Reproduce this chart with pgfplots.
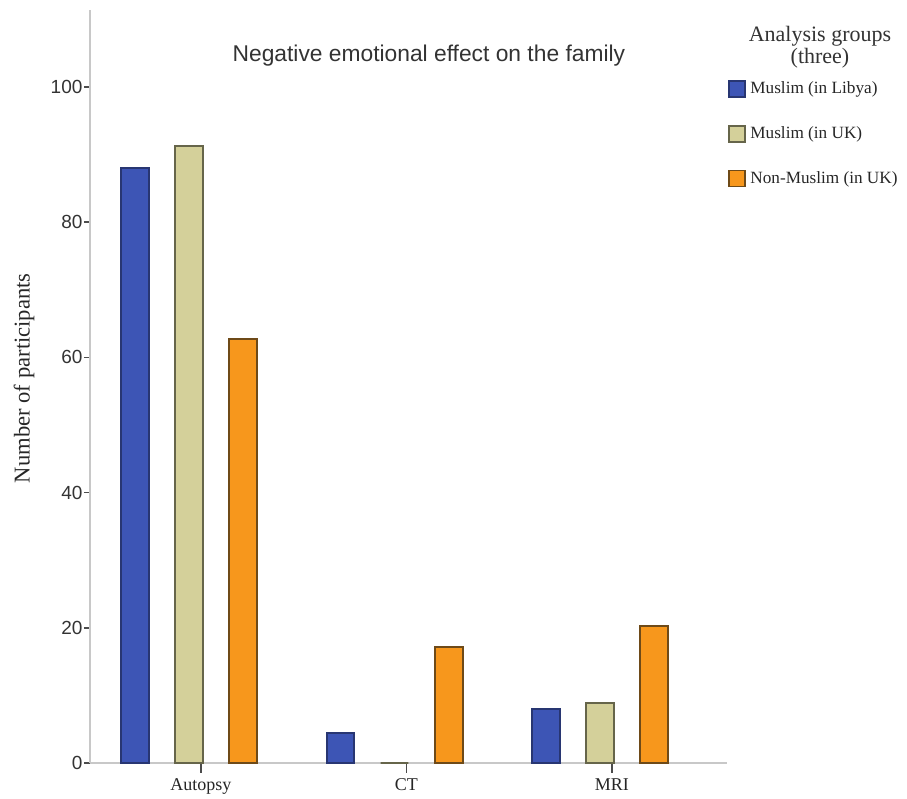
\documentclass[border=0pt]{standalone}
\usepackage{fontspec}
\setmainfont{Liberation Serif}
\setsansfont{Liberation Sans}
\usepackage{pgfplots}
\pgfplotsset{compat=1.18}
\definecolor{cblue}{HTML}{3D55B5}
\definecolor{cblueb}{HTML}{283672}
\definecolor{cbeige}{HTML}{D4D09A}
\definecolor{cbeigeb}{HTML}{66654A}
\definecolor{corange}{HTML}{F7971C}
\definecolor{coranget}{HTML}{6E4A18}
\definecolor{axgray}{HTML}{C8C8C8}
\begin{document}
\begin{tikzpicture}
\useasboundingbox (0,0) rectangle (453.5pt,399.5pt);
\begin{axis}[
  at={(45pt,18pt)}, anchor=south west,
  scale only axis,
  width=318.5pt, height=376.5pt,
  xmin=-0.482, xmax=2.618,
  ymin=0, ymax=111.4,
  axis x line*=bottom, axis y line*=left,
  axis line style={axgray, line width=1.2pt},
  every outer x axis line/.append style={-},
  every outer y axis line/.append style={-},
  tick align=outside,
  xtick={0.058,1.058,2.058},
  xticklabels={Autopsy,CT,MRI},
  xticklabel style={font=\fontsize{9}{10}\selectfont, text=black!85},
  xtick style={black!70, line width=0.8pt, /pgfplots/major tick length=5pt},
  ytick={0,20,40,60,80,100},
  yticklabel style={font=\sffamily\fontsize{9.5}{10}\selectfont, text=black!80, xshift=4pt},
  ytick style={black!70, line width=0.8pt, /pgfplots/major tick length=3pt},
  /pgf/number format/assume math mode=true,
  ylabel={Number of participants},
  ylabel style={font=\fontsize{11.3}{12}\selectfont, text=black!85, at={(axis description cs:-0.1036,0.511)}, anchor=center, rotate=0},
  ybar,
  bar width=0.136,
  legend style={at={(axis description cs:1.0016,0.908)}, anchor=north west, draw=none, fill=none,
    font=\fontsize{8.6}{10}\selectfont, row sep=12.9pt, inner sep=0pt,
    nodes={inner sep=1pt, text=black!85},
    /tikz/every odd column/.append style={column sep=1.2pt}},
  legend cell align=left,
  legend image code/.code={\draw[#1, line width=0.8pt] (0pt,-4pt) rectangle (8pt,4pt);},
  clip=false,
]
\addplot[fill=cblue, draw=cblueb, line width=1pt, bar shift=-0.263] coordinates {(0,88.0) (1,4.4) (2,8.0)};
\addplot[fill=cbeige, draw=cbeigeb, line width=1pt, bar shift=0] coordinates {(0,91.3) (1,0) (2,8.9)};
\addplot[fill=corange, draw=coranget, line width=1pt, bar shift=0.263] coordinates {(0,62.8) (1,17.2) (2,20.3)};
\legend{Muslim (in Libya),Muslim (in UK),Non-Muslim (in UK)}
\node[font=\sffamily\fontsize{11.4}{12}\selectfont, text=black!80] at (axis description cs:0.532,0.940) {Negative emotional effect on the family};
\node[font=\fontsize{11}{11}\selectfont, align=center, text=black!80] at (axis description cs:1.146,0.951) {Analysis groups\\(three)};
\end{axis}
\end{tikzpicture}
\end{document}
